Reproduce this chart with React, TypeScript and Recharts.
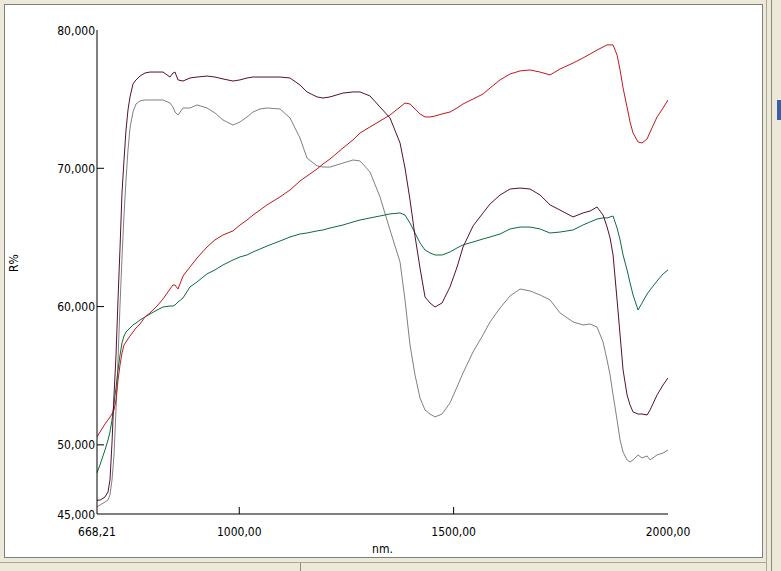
import React from "react";
import { LineChart, Line, XAxis, YAxis } from "recharts";

// wavelength (nm) and reflectance R% of the four spectra
const wavelength = [
  668.21, 675.2, 686.9, 693.9, 698.5, 703.2, 707.9, 712.5, 717.2, 721.9,
  726.5, 731.2, 735.9, 740.5, 745.2, 752.2, 759.2, 768.5, 780.2, 791.8,
  808.2, 822.2, 838.5, 845.5, 850.1, 857.1, 868.8, 885.1, 901.5, 924.8,
  943.4, 962.1, 985.4, 1001.8, 1018.1, 1032.1, 1048.4, 1064.7, 1095.1, 1118.4,
  1141.7, 1158.0, 1181.4, 1195.4, 1211.7, 1242.0, 1265.3, 1281.7, 1305.0, 1328.3,
  1351.6, 1375.0, 1386.6, 1398.3, 1409.9, 1421.6, 1433.3, 1444.9, 1456.6, 1473.0,
  1491.6, 1508.0, 1522.0, 1545.3, 1568.6, 1585.0, 1608.3, 1631.6, 1655.0, 1678.3,
  1701.6, 1724.9, 1748.2, 1778.5, 1801.9, 1818.2, 1834.5, 1848.5, 1857.9, 1864.9,
  1871.9, 1881.2, 1888.2, 1895.2, 1904.5, 1911.5, 1918.5, 1930.2, 1939.5, 1951.2,
  1958.2, 1974.5, 1988.5, 2000.0,
];

const darkSpectrum = [
  46.0, 46.0, 46.23, 46.59, 47.46, 50.14, 53.61, 56.43, 60.48, 64.24,
  68.21, 70.6, 72.77, 74.22, 75.16, 76.1, 76.39, 76.67, 76.89, 76.96,
  76.96, 76.96, 76.6, 76.89, 76.96, 76.39, 76.31, 76.53, 76.6, 76.67,
  76.6, 76.46, 76.31, 76.39, 76.53, 76.6, 76.6, 76.6, 76.6, 76.53,
  76.02, 75.52, 75.16, 75.08, 75.16, 75.44, 75.52, 75.52, 75.23, 74.43,
  73.64, 71.83, 70.02, 67.71, 65.1, 62.79, 60.69, 60.26, 59.97, 60.26,
  61.42, 62.86, 64.31, 65.83, 66.77, 67.42, 68.07, 68.5, 68.57, 68.5,
  68.07, 67.35, 66.98, 66.48, 66.77, 66.91, 67.2, 66.62, 65.76, 64.96,
  63.73, 60.48, 57.95, 55.42, 53.61, 52.88, 52.38, 52.23, 52.23, 52.16,
  52.52, 53.61, 54.33, 54.84,
];

const redSpectrum = [
  50.57, 50.93, 51.51, 51.8, 52.02, 52.23, 52.52, 53.25, 54.69, 55.78,
  56.64, 57.22, 57.44, 57.66, 57.87, 58.16, 58.45, 58.74, 59.25, 59.54,
  60.04, 60.55, 61.27, 61.56, 61.56, 61.27, 62.21, 62.86, 63.51, 64.31,
  64.82, 65.18, 65.47, 65.9, 66.26, 66.62, 66.98, 67.35, 67.93, 68.43,
  69.08, 69.44, 69.95, 70.31, 70.67, 71.47, 72.05, 72.55, 72.99, 73.42,
  73.85, 74.43, 74.72, 74.65, 74.29, 73.93, 73.71, 73.71, 73.78, 73.93,
  74.07, 74.36, 74.65, 75.01, 75.37, 75.81, 76.39, 76.82, 77.04, 77.11,
  76.96, 76.75, 77.18, 77.61, 77.98, 78.26, 78.55, 78.77, 78.92, 78.92,
  78.92, 78.19, 77.11, 75.81, 74.43, 73.35, 72.55, 71.9, 71.83, 72.12,
  72.62, 73.71, 74.36, 74.94,
];

const greenSpectrum = [
  47.97, 48.55, 49.63, 50.35, 50.93, 51.8, 53.03, 54.11, 55.42, 56.5,
  57.37, 57.87, 58.16, 58.31, 58.45, 58.67, 58.81, 59.03, 59.25, 59.46,
  59.75, 59.97, 60.04, 60.04, 60.11, 60.33, 60.62, 61.42, 61.78, 62.36,
  62.65, 63.01, 63.37, 63.59, 63.73, 63.95, 64.16, 64.38, 64.74, 65.03,
  65.25, 65.32, 65.47, 65.54, 65.68, 65.9, 66.12, 66.26, 66.41, 66.55,
  66.7, 66.77, 66.62, 66.04, 65.32, 64.6, 64.09, 63.88, 63.73, 63.73,
  63.95, 64.24, 64.46, 64.67, 64.89, 65.03, 65.25, 65.61, 65.75, 65.75,
  65.61, 65.32, 65.39, 65.54, 65.9, 66.12, 66.33, 66.41, 66.41, 66.48,
  66.55, 65.68, 64.82, 63.73, 62.65, 61.71, 60.84, 59.75, 60.26, 60.91,
  61.2, 61.85, 62.36, 62.65,
];

const graySpectrum = [
  45.51, 45.65, 45.87, 46.01, 46.38, 47.46, 49.27, 52.52, 56.14, 60.12,
  63.51, 66.62, 69.15, 71.32, 72.91, 74.07, 74.65, 74.87, 74.94, 74.94,
  74.94, 74.94, 74.72, 74.43, 74.07, 73.85, 74.36, 74.36, 74.58, 74.36,
  74.0, 73.49, 73.13, 73.35, 73.71, 74.07, 74.29, 74.36, 74.29, 73.64,
  72.19, 70.74, 70.17, 70.09, 70.09, 70.38, 70.6, 70.53, 69.73, 67.93,
  65.54, 63.22, 60.48, 57.22, 55.06, 53.39, 52.52, 52.23, 52.02, 52.23,
  53.03, 54.19, 55.2, 56.72, 57.95, 58.89, 59.9, 60.77, 61.27, 61.13,
  60.84, 60.48, 59.54, 58.89, 58.67, 58.74, 58.52, 57.44, 56.14, 55.06,
  53.61, 51.8, 50.35, 49.48, 48.91, 48.76, 48.91, 49.27, 49.05, 49.2,
  48.91, 49.27, 49.41, 49.63,
];

const xTicks = [668.21, 1000, 1500, 2000];
const yTicks = [45, 50, 60, 70, 80];

const data = wavelength.map((nm, i) => ({
  nm,
  dark: darkSpectrum[i],
  red: redSpectrum[i],
  green: greenSpectrum[i],
  gray: graySpectrum[i],
}));

const FONT = "'Liberation Sans Narrow', 'Arial Narrow', 'DejaVu Sans Condensed', sans-serif";
const TICK_LEN = 7;
const fmtX = (v: number) => v.toFixed(2).replace(".", ",");
const fmtY = (v: number) => v.toFixed(3).replace(".", ",");

const LeftTick = ({ x, y, payload }: any) => {
  const edge = payload.value === 45 || payload.value === 80;
  return (
    <g>
      {!edge && <line x1={x} y1={y} x2={x + TICK_LEN} y2={y} stroke="#000" />}
      <text x={x - 2} y={y} dy={4.5} textAnchor="end" fontSize={12} fontFamily={FONT} fill="#000">
        {fmtY(payload.value)}
      </text>
    </g>
  );
};

const BottomTick = ({ x, y, payload }: any) => {
  const edge = payload.value === 668.21 || payload.value === 2000;
  return (
    <g>
      {!edge && <line x1={x} y1={y} x2={x} y2={y - TICK_LEN} stroke="#000" />}
      <text x={x} y={y + 22} textAnchor="middle" fontSize={12} fontFamily={FONT} fill="#000">
        {fmtX(payload.value)}
      </text>
    </g>
  );
};

const RightTick = ({ x, y }: any) => (
  <line x1={x} y1={y} x2={x - TICK_LEN} y2={y} stroke="#000" />
);

const TopTick = ({ x, y }: any) => (
  <line x1={x} y1={y} x2={x} y2={y + TICK_LEN} stroke="#000" />
);

export default function App() {
  return (
    <div style={{ position: "fixed", left: 0, top: 0, width: 781, height: 571, background: "#ECE9D8", overflow: "hidden" }}>
      <div style={{ position: "absolute", left: 4, top: 4, width: 757, height: 552, background: "#fff", border: "1px solid #7f7f7f" }} />
      <div style={{ position: "absolute", left: 766, top: 0, width: 1, height: 571, background: "#aca899" }} />
      <div style={{ position: "absolute", left: 771, top: 0, width: 1, height: 571, background: "#8f8b7c" }} />
      <div style={{ position: "absolute", left: 777, top: 100, width: 4, height: 20, background: "#3b5ea8" }} />
      <div style={{ position: "absolute", left: 0, top: 562, width: 766, height: 1, background: "#aca899" }} />
      <div style={{ position: "absolute", left: 300, top: 563, width: 1, height: 8, background: "#8f8b7c" }} />
      <div style={{ position: "absolute", left: 0, top: 0 }}>
        <LineChart width={781} height={571} data={data} margin={{ top: 30, right: 113, bottom: 27, left: 0 }}>
          <XAxis
            dataKey="nm"
            type="number"
            domain={[668.21, 2000]}
            allowDataOverflow
            ticks={xTicks}
            interval={0}
            height={30}
            tickSize={0}
            tickMargin={0}
            tickLine={false}
            tick={BottomTick}
            axisLine={{ stroke: "#000" }}
            label={{ value: "nm.", position: "bottom", offset: 0, fontSize: 12, fontFamily: FONT, fill: "#000" }}
          />
          <XAxis
            xAxisId="top"
            orientation="top"
            type="number"
            domain={[668.21, 2000]}
            allowDataOverflow
            ticks={[1000, 1500]}
            interval={0}
            height={0}
            tickSize={0}
            tickMargin={0}
            tickLine={false}
            tick={TopTick}
            axisLine={{ stroke: "#000" }}
          />
          <YAxis
            type="number"
            domain={[45, 80]}
            allowDataOverflow
            ticks={yTicks}
            interval={0}
            width={97}
            tickSize={0}
            tickMargin={0}
            tickLine={false}
            tick={LeftTick}
            axisLine={{ stroke: "#000" }}
            label={{ value: "R%", angle: -90, position: "insideLeft", offset: 14, fontSize: 12, fontFamily: FONT, fill: "#000" }}
          />
          <YAxis
            yAxisId="right"
            orientation="right"
            type="number"
            domain={[45, 80]}
            allowDataOverflow
            ticks={[50, 60, 70]}
            interval={0}
            width={0}
            tickSize={0}
            tickMargin={0}
            tickLine={false}
            tick={RightTick}
            axisLine={{ stroke: "#000" }}
          />
          <Line dataKey="gray" stroke="#808080" strokeWidth={1} dot={false} isAnimationActive={false} />
          <Line dataKey="green" stroke="#0e6b3c" strokeWidth={1} dot={false} isAnimationActive={false} />
          <Line dataKey="red" stroke="#c4161f" strokeWidth={1} dot={false} isAnimationActive={false} />
          <Line dataKey="dark" stroke="#560f30" strokeWidth={1} dot={false} isAnimationActive={false} />
        </LineChart>
      </div>
    </div>
  );
}
